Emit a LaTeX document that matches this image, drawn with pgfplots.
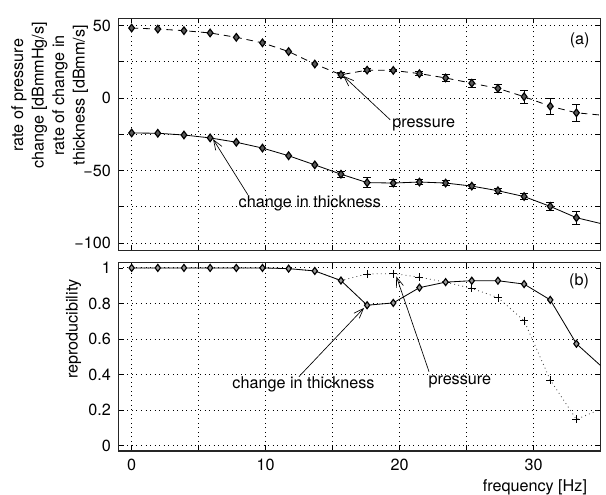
\documentclass[border=0pt]{standalone}
\usepackage{fontspec}
\setmainfont{TeX Gyre Heros}
\usepackage{pgfplots}
\pgfplotsset{compat=1.18}
\usetikzlibrary{arrows.meta}

% shared look of both panels
\pgfplotsset{
  panel/.style={
    width=292pt, scale only axis,
    xmin=-1, xmax=35,
    xtick={0,5,...,35},
    tick align=inside,
    major tick length=3pt,
    grid=major,
    grid style={black, line width=0.55pt, dash pattern=on 0.55pt off 2.2pt},
    axis line style={line width=0.8pt, black!85},
    every tick/.style={black, line width=0.5pt},
    font=\fontsize{9.8}{12}\selectfont,
    /pgf/number format/assume math mode=true,
    yticklabel style={xshift=-1pt},
    xticklabel style={yshift=-1.3pt},
  },
  ebars/.style={draw=none, mark=none, forget plot,
    error bars/.cd, y dir=both, y explicit,
    error bar style={draw=black, line width=0.5pt, solid},
    error mark options={rotate=90, mark size=2.4pt, draw=black, line width=0.5pt, solid}},
}
\tikzset{
  note/.style={font=\fontsize{9.8}{12}\selectfont, inner sep=0pt},
  pointer/.style={-{Straight Barb[length=6pt,width=4.5pt]}, line width=0.4pt, black},
}

\begin{document}
\begin{tikzpicture}
\begin{axis}[panel, name=top,
    height=140.6pt,
    ymin=-105, ymax=55,
    ytick={-100,-75,...,50},
    yticklabels={−100,,−50,,0,,50},
    xticklabels={},
    ylabel={rate of pressure\\change [dBmmHg/s]\\rate of change in\\thickness [dBmm/s]},
    ylabel style={align=center, at={(axis description cs:-0.062,0.668)}, anchor=south,
      inner sep=0pt, font=\fontsize{9.8}{12.4}\selectfont},
]
% pressure (dashed)
\addplot[black, line width=0.5pt, dash pattern=on 4pt off 3pt,
    mark=diamond*, mark indices={1,...,18}, mark size=2.3pt,
    mark options={solid, fill=black!65, line width=0.7pt}] coordinates {
  (0,48.2) (1.953,47.5) (3.906,46.4) (5.859,44.8) (7.813,41.8) (9.766,38.0)
  (11.719,32.0) (13.672,23.4) (15.625,16.0) (17.578,19.2) (19.531,19.0)
  (21.484,16.8) (23.438,13.8) (25.391,10.2) (27.344,6.6) (29.297,0.9)
  (31.25,-5.7) (33.203,-10.2) (35.156,-11.9)
};
\addplot[ebars] coordinates {
  (15.625,16.0) +- (0,1.6) (17.578,19.2) +- (0,1.0) (19.531,19.0) +- (0,1.0)
  (21.484,16.8) +- (0,1.4) (23.438,13.8) +- (0,2.2) (25.391,10.2) +- (0,2.6)
  (27.344,6.6) +- (0,2.8) (29.297,0.9) +- (0,4.5) (31.25,-5.7) +- (0,5.4)
  (33.203,-10.2) +- (0,6.0)
};
% change in thickness (solid)
\addplot[black, line width=0.5pt,
    mark=diamond*, mark indices={1,...,18}, mark size=2.3pt,
    mark options={solid, fill=black!65, line width=0.7pt}] coordinates {
  (0,-24.1) (1.953,-24.3) (3.906,-25.5) (5.859,-27.5) (7.813,-30.5) (9.766,-34.5)
  (11.719,-39.8) (13.672,-46.1) (15.625,-52.5) (17.578,-58.3) (19.531,-58.6)
  (21.484,-57.9) (23.438,-58.6) (25.391,-60.7) (27.344,-63.9) (29.297,-67.9)
  (31.25,-74.7) (33.203,-82.5) (35.156,-86.8)
};
\addplot[ebars] coordinates {
  (15.625,-52.5) +- (0,2.2) (17.578,-58.3) +- (0,3.5) (19.531,-58.6) +- (0,2.3)
  (21.484,-57.9) +- (0,1.6) (23.438,-58.6) +- (0,1.5) (25.391,-60.7) +- (0,1.4)
  (27.344,-63.9) +- (0,1.6) (29.297,-67.9) +- (0,2.2) (31.25,-74.7) +- (0,3.0)
  (33.203,-82.5) +- (0,4.5)
};
\node[note] at (axis cs:21.8,-18.4) {pressure};
\draw[pointer] (axis cs:19.3,-15) -- (axis cs:15.8,15.2);
\node[note] at (axis cs:13.3,-72.9) {change in thickness};
\draw[pointer] (axis cs:8.67,-66.6) -- (axis cs:6.08,-28.4);
\node[note] at (axis cs:33.45,39.4) {(a)};
\end{axis}

\begin{axis}[panel, name=bot,
    at={(top.south west)}, anchor=north west, yshift=-7.4pt,
    height=114pt,
    ymin=-0.03, ymax=1.03,
    ytick={0,0.2,...,1},
    yticklabels={0,0.2,0.4,0.6,0.8,1},
    xticklabels={0,,10,,20,,30,},
    ylabel={reproducibility},
    ylabel style={at={(axis description cs:-0.076,0.647)}, anchor=south, inner sep=0pt},
    xlabel={frequency [Hz]},
    xlabel style={at={(axis description cs:0.864,0)}, anchor=north, yshift=-17pt, inner sep=0pt},
]
% pressure (dotted, plus marks)
\addplot[black!75, line width=0.5pt, dotted,
    mark=+, mark indices={10,...,18}, mark size=2.4pt,
    mark options={solid, black, line width=0.4pt}] coordinates {
  (0,1.0) (1.953,1.0) (3.906,1.0) (5.859,1.0) (7.813,1.0) (9.766,1.0)
  (11.719,0.996) (13.672,0.983) (15.625,0.929) (17.578,0.966) (19.531,0.968)
  (21.484,0.948) (23.438,0.92) (25.391,0.885) (27.344,0.833) (29.297,0.703)
  (31.25,0.369) (33.203,0.147) (35.156,0.21)
};
% change in thickness (solid, diamonds)
\addplot[black, line width=0.5pt,
    mark=diamond*, mark indices={1,...,18}, mark size=2.1pt,
    mark options={solid, fill=black!40, line width=0.7pt}] coordinates {
  (0,1.0) (1.953,1.0) (3.906,1.0) (5.859,1.0) (7.813,1.0) (9.766,1.0)
  (11.719,0.996) (13.672,0.983) (15.625,0.929) (17.578,0.790) (19.531,0.803)
  (21.484,0.889) (23.438,0.920) (25.391,0.928) (27.344,0.928) (29.297,0.909)
  (31.25,0.820) (33.203,0.573) (35.156,0.44)
};
\node[note] at (axis cs:12.83,0.342) {change in thickness};
\draw[pointer] (axis cs:12.49,0.388) -- (axis cs:17.35,0.775);
\node[note] at (axis cs:24.5,0.357) {pressure};
\draw[pointer] (axis cs:22.2,0.416) -- (axis cs:19.76,0.952);
\node[note] at (axis cs:33.4,0.926) {(b)};
\end{axis}
\path ([xshift=-71.6pt, yshift=11pt]top.north west) ([yshift=-26.4pt]bot.south east);
\end{tikzpicture}
\end{document}
